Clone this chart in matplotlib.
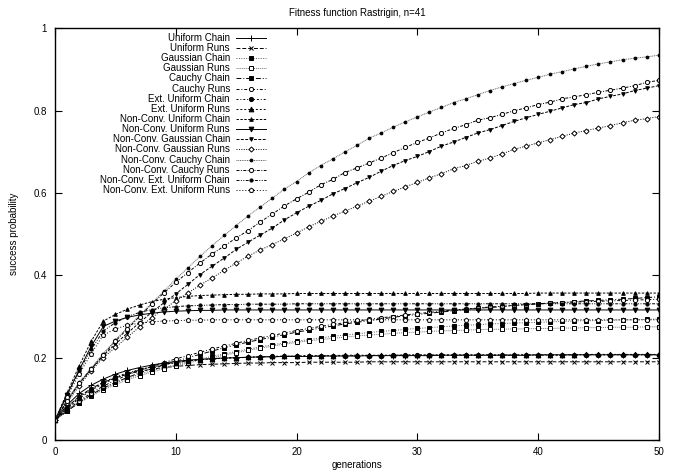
import numpy as np
import matplotlib
matplotlib.use("Agg")
import matplotlib.pyplot as plt
from matplotlib.lines import Line2D

plt.rcParams['font.family'] = ['Liberation Sans', 'DejaVu Sans']

# ----- DATA -----
generations = list(range(51))

uniform_chain = [
    0.048, 0.085, 0.113, 0.133, 0.148, 0.160, 0.169, 0.176, 0.182, 0.187,
    0.191, 0.194, 0.196, 0.198, 0.199, 0.200, 0.201, 0.202, 0.202, 0.203,
    0.203, 0.203, 0.204, 0.204, 0.204, 0.204, 0.205, 0.205, 0.205, 0.205,
    0.205, 0.205, 0.206, 0.206, 0.206, 0.206, 0.206, 0.206, 0.206, 0.206,
    0.207, 0.207, 0.207, 0.207, 0.207, 0.207, 0.207, 0.207, 0.207, 0.207,
    0.207]
uniform_runs = [
    0.048, 0.080, 0.106, 0.125, 0.140, 0.151, 0.160, 0.167, 0.172, 0.176,
    0.179, 0.181, 0.183, 0.184, 0.185, 0.186, 0.187, 0.187, 0.188, 0.188,
    0.188, 0.189, 0.189, 0.189, 0.189, 0.189, 0.190, 0.190, 0.190, 0.190,
    0.190, 0.190, 0.190, 0.190, 0.190, 0.190, 0.190, 0.190, 0.190, 0.190,
    0.190, 0.190, 0.190, 0.190, 0.190, 0.190, 0.190, 0.190, 0.190, 0.190,
    0.190]
gaussian_chain = [
    0.048, 0.072, 0.093, 0.111, 0.126, 0.139, 0.150, 0.160, 0.168, 0.176,
    0.183, 0.190, 0.197, 0.203, 0.209, 0.215, 0.221, 0.226, 0.231, 0.236,
    0.240, 0.244, 0.248, 0.252, 0.255, 0.258, 0.261, 0.264, 0.266, 0.269,
    0.271, 0.273, 0.275, 0.277, 0.279, 0.280, 0.282, 0.283, 0.284, 0.285,
    0.286, 0.287, 0.288, 0.289, 0.290, 0.290, 0.291, 0.292, 0.292, 0.293,
    0.294]
gaussian_runs = [
    0.048, 0.070, 0.090, 0.107, 0.122, 0.135, 0.146, 0.156, 0.165, 0.173,
    0.180, 0.187, 0.194, 0.200, 0.206, 0.212, 0.218, 0.223, 0.228, 0.233,
    0.237, 0.241, 0.244, 0.247, 0.250, 0.253, 0.255, 0.257, 0.259, 0.261,
    0.262, 0.264, 0.265, 0.266, 0.267, 0.268, 0.269, 0.269, 0.270, 0.270,
    0.271, 0.271, 0.272, 0.272, 0.273, 0.273, 0.274, 0.274, 0.274, 0.275,
    0.275]
cauchy_chain = [
    0.048, 0.070, 0.091, 0.110, 0.126, 0.140, 0.152, 0.163, 0.173, 0.182,
    0.191, 0.200, 0.208, 0.216, 0.224, 0.231, 0.238, 0.244, 0.250, 0.256,
    0.262, 0.267, 0.272, 0.277, 0.282, 0.286, 0.290, 0.294, 0.298, 0.302,
    0.305, 0.308, 0.311, 0.314, 0.317, 0.320, 0.322, 0.324, 0.327, 0.329,
    0.331, 0.333, 0.334, 0.336, 0.338, 0.339, 0.341, 0.342, 0.344, 0.346,
    0.348]
cauchy_runs = [
    0.048, 0.073, 0.095, 0.114, 0.131, 0.145, 0.158, 0.169, 0.179, 0.188,
    0.197, 0.205, 0.213, 0.221, 0.228, 0.235, 0.242, 0.248, 0.254, 0.260,
    0.266, 0.271, 0.276, 0.281, 0.285, 0.289, 0.293, 0.297, 0.300, 0.304,
    0.307, 0.310, 0.313, 0.316, 0.318, 0.321, 0.323, 0.325, 0.327, 0.329,
    0.331, 0.332, 0.334, 0.335, 0.336, 0.337, 0.338, 0.339, 0.340, 0.341,
    0.342]
ext_uniform_chain = [
    0.048, 0.078, 0.104, 0.124, 0.140, 0.153, 0.163, 0.171, 0.178, 0.184,
    0.188, 0.192, 0.195, 0.197, 0.199, 0.200, 0.201, 0.202, 0.203, 0.203,
    0.204, 0.204, 0.204, 0.205, 0.205, 0.205, 0.205, 0.205, 0.206, 0.206,
    0.206, 0.206, 0.206, 0.206, 0.206, 0.206, 0.206, 0.206, 0.206, 0.206,
    0.206, 0.206, 0.206, 0.207, 0.207, 0.207, 0.207, 0.207, 0.207, 0.207,
    0.207]
ext_uniform_runs = [
    0.048, 0.076, 0.101, 0.121, 0.137, 0.150, 0.161, 0.170, 0.177, 0.183,
    0.188, 0.192, 0.195, 0.197, 0.199, 0.200, 0.201, 0.202, 0.203, 0.204,
    0.204, 0.205, 0.205, 0.205, 0.206, 0.206, 0.206, 0.206, 0.206, 0.207,
    0.207, 0.207, 0.207, 0.207, 0.207, 0.207, 0.207, 0.207, 0.207, 0.207,
    0.207, 0.207, 0.207, 0.207, 0.208, 0.208, 0.208, 0.208, 0.208, 0.208,
    0.208]
nc_uniform_chain = [
    0.048, 0.115, 0.180, 0.240, 0.289, 0.305, 0.318, 0.328, 0.336, 0.342,
    0.346, 0.349, 0.351, 0.352, 0.353, 0.354, 0.354, 0.355, 0.355, 0.355,
    0.356, 0.356, 0.356, 0.356, 0.356, 0.356, 0.356, 0.356, 0.356, 0.356,
    0.356, 0.356, 0.356, 0.356, 0.356, 0.356, 0.356, 0.356, 0.356, 0.356,
    0.357, 0.357, 0.357, 0.357, 0.357, 0.357, 0.357, 0.357, 0.357, 0.357,
    0.357]
nc_uniform_runs = [
    0.048, 0.110, 0.170, 0.228, 0.276, 0.289, 0.298, 0.304, 0.308, 0.311,
    0.313, 0.314, 0.315, 0.315, 0.316, 0.316, 0.316, 0.316, 0.316, 0.316,
    0.316, 0.316, 0.316, 0.316, 0.316, 0.316, 0.316, 0.316, 0.316, 0.316,
    0.316, 0.316, 0.316, 0.316, 0.316, 0.316, 0.316, 0.316, 0.316, 0.316,
    0.316, 0.316, 0.316, 0.316, 0.316, 0.316, 0.316, 0.316, 0.316, 0.316,
    0.316]
nc_gaussian_chain = [
    0.048, 0.095, 0.137, 0.172, 0.205, 0.233, 0.260, 0.285, 0.310, 0.333,
    0.355, 0.378, 0.402, 0.422, 0.442, 0.463, 0.481, 0.498, 0.515, 0.535,
    0.552, 0.568, 0.582, 0.598, 0.611, 0.625, 0.638, 0.653, 0.667, 0.679,
    0.689, 0.701, 0.714, 0.724, 0.735, 0.746, 0.754, 0.764, 0.774, 0.783,
    0.791, 0.799, 0.807, 0.815, 0.820, 0.829, 0.835, 0.841, 0.849, 0.855,
    0.861]
nc_gaussian_runs = [
    0.048, 0.090, 0.132, 0.168, 0.200, 0.225, 0.250, 0.275, 0.297, 0.318,
    0.338, 0.357, 0.376, 0.394, 0.412, 0.430, 0.447, 0.462, 0.475, 0.489,
    0.503, 0.518, 0.531, 0.544, 0.556, 0.568, 0.580, 0.592, 0.604, 0.615,
    0.626, 0.637, 0.647, 0.659, 0.667, 0.677, 0.685, 0.695, 0.706, 0.714,
    0.722, 0.730, 0.738, 0.746, 0.752, 0.758, 0.764, 0.771, 0.777, 0.781,
    0.786]
nc_cauchy_chain = [
    0.048, 0.097, 0.140, 0.175, 0.210, 0.243, 0.273, 0.303, 0.332, 0.361,
    0.391, 0.418, 0.446, 0.472, 0.497, 0.521, 0.545, 0.566, 0.588, 0.610,
    0.628, 0.649, 0.667, 0.683, 0.700, 0.716, 0.733, 0.746, 0.760, 0.773,
    0.785, 0.797, 0.808, 0.820, 0.829, 0.839, 0.849, 0.858, 0.866, 0.874,
    0.881, 0.889, 0.895, 0.902, 0.908, 0.914, 0.919, 0.924, 0.928, 0.931,
    0.935]
nc_cauchy_runs = [
    0.048, 0.095, 0.138, 0.172, 0.207, 0.240, 0.270, 0.300, 0.330, 0.357,
    0.383, 0.407, 0.430, 0.452, 0.471, 0.491, 0.509, 0.530, 0.549, 0.569,
    0.586, 0.602, 0.620, 0.633, 0.650, 0.661, 0.673, 0.685, 0.698, 0.711,
    0.723, 0.734, 0.746, 0.757, 0.766, 0.777, 0.783, 0.791, 0.800, 0.807,
    0.815, 0.821, 0.829, 0.834, 0.839, 0.845, 0.850, 0.855, 0.861, 0.869,
    0.874]
nc_ext_uniform_chain = [
    0.048, 0.110, 0.168, 0.220, 0.265, 0.285, 0.300, 0.310, 0.317, 0.321,
    0.324, 0.326, 0.327, 0.328, 0.329, 0.329, 0.330, 0.330, 0.330, 0.330,
    0.331, 0.331, 0.331, 0.331, 0.331, 0.331, 0.331, 0.331, 0.331, 0.331,
    0.331, 0.331, 0.331, 0.331, 0.331, 0.331, 0.331, 0.331, 0.331, 0.331,
    0.331, 0.331, 0.331, 0.331, 0.331, 0.331, 0.331, 0.331, 0.331, 0.331,
    0.331]
nc_ext_uniform_runs = [
    0.048, 0.105, 0.160, 0.210, 0.255, 0.270, 0.279, 0.284, 0.287, 0.289,
    0.290, 0.291, 0.291, 0.292, 0.292, 0.292, 0.292, 0.292, 0.292, 0.292,
    0.292, 0.292, 0.292, 0.292, 0.292, 0.292, 0.292, 0.292, 0.292, 0.292,
    0.292, 0.292, 0.292, 0.292, 0.292, 0.292, 0.292, 0.292, 0.292, 0.292,
    0.292, 0.292, 0.292, 0.292, 0.292, 0.292, 0.292, 0.292, 0.292, 0.292,
    0.292]

labels = [
    "Uniform Chain", "Uniform Runs", "Gaussian Chain", "Gaussian Runs",
    "Cauchy Chain", "Cauchy Runs", "Ext. Uniform Chain", "Ext. Uniform Runs",
    "Non-Conv. Uniform Chain", "Non-Conv. Uniform Runs",
    "Non-Conv. Gaussian Chain", "Non-Conv. Gaussian Runs",
    "Non-Conv. Cauchy Chain", "Non-Conv. Cauchy Runs",
    "Non-Conv. Ext. Uniform Chain", "Non-Conv. Ext. Uniform Runs",
]
series = [
    uniform_chain, uniform_runs, gaussian_chain, gaussian_runs,
    cauchy_chain, cauchy_runs, ext_uniform_chain, ext_uniform_runs,
    nc_uniform_chain, nc_uniform_runs, nc_gaussian_chain, nc_gaussian_runs,
    nc_cauchy_chain, nc_cauchy_runs, nc_ext_uniform_chain, nc_ext_uniform_runs,
]

# ----- STYLES (gnuplot monochrome look) -----
# (dashes, marker, marker size, filled, line colour)
styles = [
    ((), '+', 4, True, 'k'),
    ((4, 2), 'x', 3, True, 'k'),
    ((1, 1.5), 's', 2.6, True, '0.35'),
    ((1, 1), 's', 3, False, '0.45'),
    ((5, 2, 1, 2), 's', 3, True, 'k'),
    ((3, 2, 1, 2), 'o', 3, False, 'k'),
    ((2, 2, 1, 2), 'o', 3, True, 'k'),
    ((2, 2), '^', 3.4, True, 'k'),
    ((2.5, 1.5), '^', 2.6, True, 'k'),
    ((), 'v', 3.4, True, 'k'),
    ((3, 1.5), 'v', 2.6, True, 'k'),
    ((1, 1.5), 'D', 2.6, False, 'k'),
    ((1, 0.8), 'o', 2, True, '0.4'),
    ((3, 1.5, 1, 1.5), 'o', 3, False, 'k'),
    ((3, 1.5, 1, 1.5, 1, 1.5), 'o', 2.3, True, 'k'),
    ((1, 2), 'p', 3.4, False, 'k'),
]

# ----- FIGURE -----
fig = plt.figure(figsize=(6.75, 4.73), dpi=100)
ax = fig.add_axes([0.0815, 0.0698, 0.8945, 0.8700])

for vals, lab, st in zip(series, labels, styles):
    dashes, mk, ms, filled, col = st
    ls = '-' if not dashes else (0, dashes)
    ax.plot(generations, vals, linestyle=ls, color=col, linewidth=0.7,
            marker=mk, markersize=ms, markeredgewidth=0.7,
            markeredgecolor='k',
            markerfacecolor='k' if filled else 'white', label=lab)

ax.set_xlim(0, 50)
ax.set_ylim(0, 1)
ax.set_xticks([0, 10, 20, 30, 40, 50])
ax.set_yticks([0, 0.2, 0.4, 0.6, 0.8, 1])
ax.set_yticklabels(["0", "0.2", "0.4", "0.6", "0.8", "1"])
ax.tick_params(direction='in', length=5, width=0.8, labelsize=7,
               top=True, right=True, colors='k')
ax.tick_params(axis='x', pad=5)
ax.tick_params(axis='y', pad=6)
for sp in ax.spines.values():
    sp.set_linewidth(1.0)

ax.set_xlabel("generations", fontsize=7, labelpad=2)
ax.set_ylabel("success probability", fontsize=7, labelpad=10)
ax.set_title("Fitness function Rastrigin, n=41", fontsize=7, pad=9)

# ----- LEGEND (gnuplot style: right-aligned text, sample on the right) -----
ax_h = 411.5   # axes height in pixels
ax_w = 604.0   # axes width in pixels
row0, row_step = 38.0 - 28.5, 10.13
text_x = (230 - 55) / ax_w
h0, h1 = (236 - 55) / ax_w, (266 - 55) / ax_w
for i, (lab, st) in enumerate(zip(labels, styles)):
    dashes, mk, ms, filled, col = st
    yf = 1 - (row0 + i * row_step) / ax_h
    ls = '-' if not dashes else (0, dashes)
    ax.text(text_x, yf, lab, transform=ax.transAxes, ha='right',
            va='center', fontsize=7)
    ax.add_line(Line2D([h0, h1], [yf, yf], transform=ax.transAxes,
                       linestyle=ls, color=col, linewidth=0.7))
    ax.add_line(Line2D([(h0 + h1) / 2], [yf], transform=ax.transAxes,
                       linestyle='none', marker=mk, markersize=ms,
                       markeredgewidth=0.7, markeredgecolor='k',
                       markerfacecolor='k' if filled else 'white'))

fig.savefig("out.png", dpi=100)
